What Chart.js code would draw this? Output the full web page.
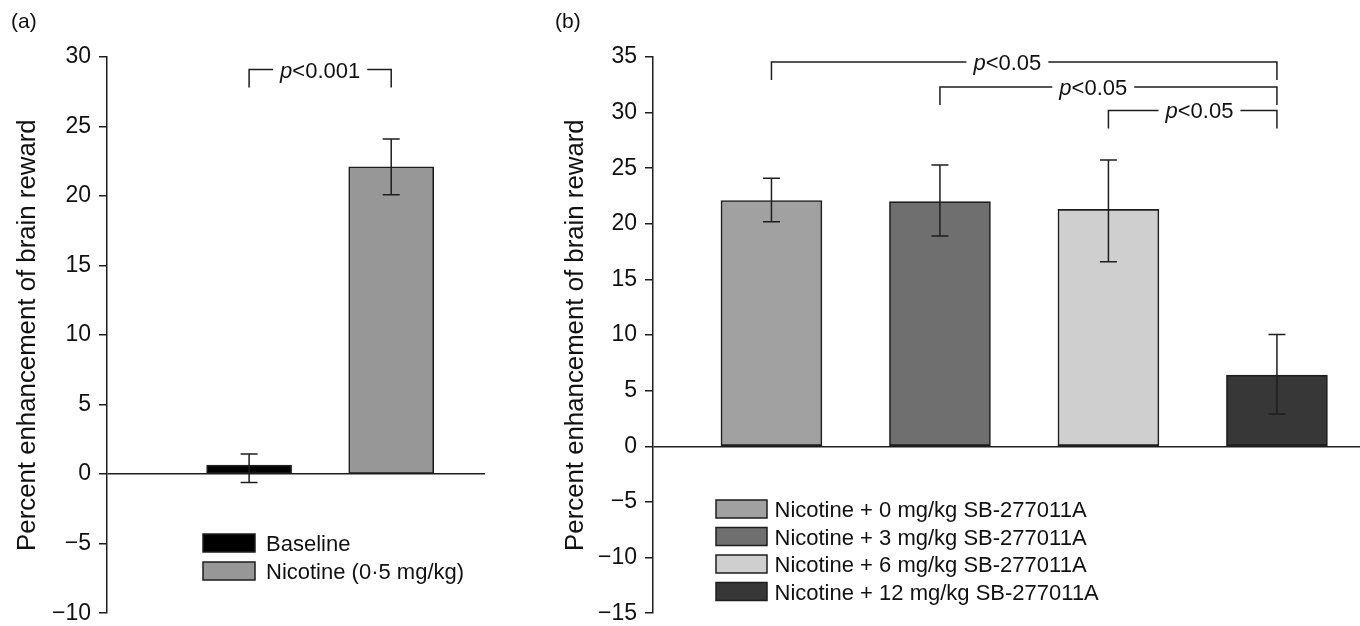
<!DOCTYPE html>
<html>
<head>
<meta charset="utf-8">
<script src="https://cdn.jsdelivr.net/npm/chart.js@4.4.0/dist/chart.umd.min.js"></script>
<style>
  html, body { margin: 0; padding: 0; background: #fff; }
  #wrap { position: relative; width: 1360px; height: 626px; overflow: hidden; }
  #chartA { position: absolute; left: 0; top: 0; }
  #chartB { position: absolute; left: 540px; top: 0; }
</style>
</head>
<body>
<div id="wrap">
  <!-- canvases are a bit taller than the page: the axis keeps ~22px under its last tick -->
  <canvas id="chartA" width="500" height="635"></canvas>
  <canvas id="chartB" width="820" height="635"></canvas>
</div>
<script>
// ---- panel (a) data
const aLabels = ['Baseline', 'Nicotine (0\u00b75 mg/kg)']
const aMeans = [0.65, 22.1]
const aErrLow = [-0.6, 20.1]
const aErrHigh = [1.45, 24.1]
const aColors = ['#000000', '#979797']
const aTicks = [-10, -5, 0, 5, 10, 15, 20, 25, 30]
const aSigFrom = [1]
const aSigTo = [2]
const aSigLevel = [29.1]
const aSigTextPos = [1.5]
const aSigText = ['<0.001']

// ---- panel (b) data
const bLabels = [
  'Nicotine + 0 mg/kg SB-277011A',
  'Nicotine + 3 mg/kg SB-277011A',
  'Nicotine + 6 mg/kg SB-277011A',
  'Nicotine + 12 mg/kg SB-277011A'
]
const bMeans = [22.1, 22.0, 21.3, 6.4]
const bErrLow = [20.2, 18.9, 16.6, 2.9]
const bErrHigh = [24.1, 25.3, 25.75, 10.05]
const bColors = ['#a1a1a1', '#6f6f6f', '#cfcfcf', '#373737']
const bTicks = [-15, -10, -5, 0, 5, 10, 15, 20, 25, 30, 35]
const bSigFrom = [1, 2, 3]
const bSigTo = [4, 4, 4]
const bSigLevel = [34.55, 32.3, 30.2]
const bSigTextPos = [2.4, 2.91, 3.54]
const bSigText = ['<0.05', '<0.05', '<0.05']

const FONT = '"Liberation Sans", Arial, Helvetica, sans-serif'
const INK = '#111'
const LINE = '#1e1e1e'

// draws error bars, significance brackets, in-plot legend and panel letter
function makeAnnot(cfg){
  return {
    id: 'annot',
    afterDatasetsDraw(chart){
      const ctx = chart.ctx
      const xs = chart.scales.x, ys = chart.scales.y
      ctx.save()
      ctx.strokeStyle = LINE
      ctx.lineWidth = 1.5
      // error bars
      cfg.means.forEach((m, i) => {
        const px = xs.getPixelForValue(i + 1)
        const t = ys.getPixelForValue(cfg.hi[i])
        const b = ys.getPixelForValue(cfg.lo[i])
        ctx.beginPath()
        ctx.moveTo(px, t); ctx.lineTo(px, b)
        ctx.moveTo(px - 8.5, t); ctx.lineTo(px + 8.5, t)
        ctx.moveTo(px - 8.5, b); ctx.lineTo(px + 8.5, b)
        ctx.stroke()
      })
      // brackets
      const pf = 'italic 22px ' + FONT, nf = '22px ' + FONT
      cfg.sigFrom.forEach((f, i) => {
        const x1 = xs.getPixelForValue(f)
        const x2 = xs.getPixelForValue(cfg.sigTo[i])
        const y = ys.getPixelForValue(cfg.sigLevel[i])
        const cx = xs.getPixelForValue(cfg.sigTextPos[i])
        ctx.font = pf
        const wp = ctx.measureText('p').width
        ctx.font = nf
        const wr = ctx.measureText(cfg.sigText[i]).width
        const sx = cx - (wp + wr) / 2
        ctx.beginPath()
        ctx.moveTo(x1, y + 18); ctx.lineTo(x1, y); ctx.lineTo(sx - 7, y)
        ctx.moveTo(sx + wp + wr + 7, y); ctx.lineTo(x2, y); ctx.lineTo(x2, y + 18)
        ctx.stroke()
        ctx.fillStyle = INK
        ctx.textBaseline = 'alphabetic'
        ctx.textAlign = 'left'
        ctx.font = pf
        ctx.fillText('p', sx, y + 8)
        ctx.font = nf
        ctx.fillText(cfg.sigText[i], sx + wp, y + 8)
      })
      // legend
      const lg = cfg.legend
      cfg.labels.forEach((lab, i) => {
        const top = lg.y + i * lg.pitch
        ctx.fillStyle = cfg.colors[i]
        ctx.fillRect(lg.x, top, lg.w, lg.h)
        ctx.strokeRect(lg.x, top, lg.w, lg.h)
        ctx.fillStyle = INK
        ctx.font = '22px ' + FONT
        ctx.textAlign = 'left'
        ctx.textBaseline = 'alphabetic'
        ctx.fillText(lab, lg.x + lg.w + lg.gap, top + lg.h / 2 + 8)
      })
      // panel letter
      ctx.font = '21px ' + FONT
      ctx.fillText(cfg.letter, cfg.letterX, 28)
      ctx.restore()
    }
  }
}

function buildChart(id, o){
  return new Chart(document.getElementById(id), {
    type: 'bar',
    data: {
      datasets: [{
        data: o.means.map((v, i) => ({ x: i + 1, y: v })),
        backgroundColor: o.colors,
        borderColor: LINE,
        borderWidth: 1.6,
        borderSkipped: false,
        barThickness: o.barW
      }]
    },
    options: {
      responsive: false,
      animation: false,
      layout: { padding: { top: 57, bottom: 0, left: 0, right: o.padRight } },
      plugins: { legend: { display: false }, tooltip: { enabled: false } },
      scales: {
        x: { type: 'linear', display: false, min: o.xMin, max: o.xMax, offset: false },
        y: {
          min: o.ticks[0],
          max: o.ticks[o.ticks.length - 1],
          afterBuildTicks: s => { s.ticks = o.ticks.map(v => ({ value: v })) },
          afterFit: s => { s.width = o.axisW },
          border: { display: true, color: LINE, width: 1.5 },
          grid: {
            drawOnChartArea: true,
            color: c => (c.tick && c.tick.value === 0) ? LINE : 'rgba(0,0,0,0)',
            lineWidth: 1.5,
            tickColor: LINE,
            tickLength: 8,
            tickWidth: 1.5
          },
          ticks: {
            color: INK,
            padding: 8,
            font: { family: FONT, size: 23 },
            callback: v => String(v).replace('-', '\u2212')
          },
          title: {
            display: true,
            text: 'Percent enhancement of brain reward',
            color: INK,
            font: { family: FONT, size: 25.8 },
            padding: { top: o.titlePad, bottom: 0 }
          }
        }
      }
    },
    plugins: [makeAnnot(o)]
  })
}

buildChart('chartA', {
  means: aMeans, lo: aErrLow, hi: aErrHigh, colors: aColors, labels: aLabels, ticks: aTicks,
  sigFrom: aSigFrom, sigTo: aSigTo, sigLevel: aSigLevel, sigTextPos: aSigTextPos, sigText: aSigText,
  barW: 85, xMin: 0, xMax: 2.66, axisW: 107, padRight: 15, titlePad: 12,
  legend: { x: 203, y: 534, w: 52, h: 18, pitch: 28, gap: 11 },
  letter: '(a)', letterX: 11
})

buildChart('chartB', {
  means: bMeans, lo: bErrLow, hi: bErrHigh, colors: bColors, labels: bLabels, ticks: bTicks,
  sigFrom: bSigFrom, sigTo: bSigTo, sigLevel: bSigLevel, sigTextPos: bSigTextPos, sigText: bSigText,
  barW: 101, xMin: 0.297, xMax: 4.493, axisW: 113, padRight: 0, titlePad: 20,
  legend: { x: 176, y: 500, w: 51, h: 18, pitch: 27.5, gap: 7.5 },
  letter: '(b)', letterX: 15
})
</script>
</body>
</html>
